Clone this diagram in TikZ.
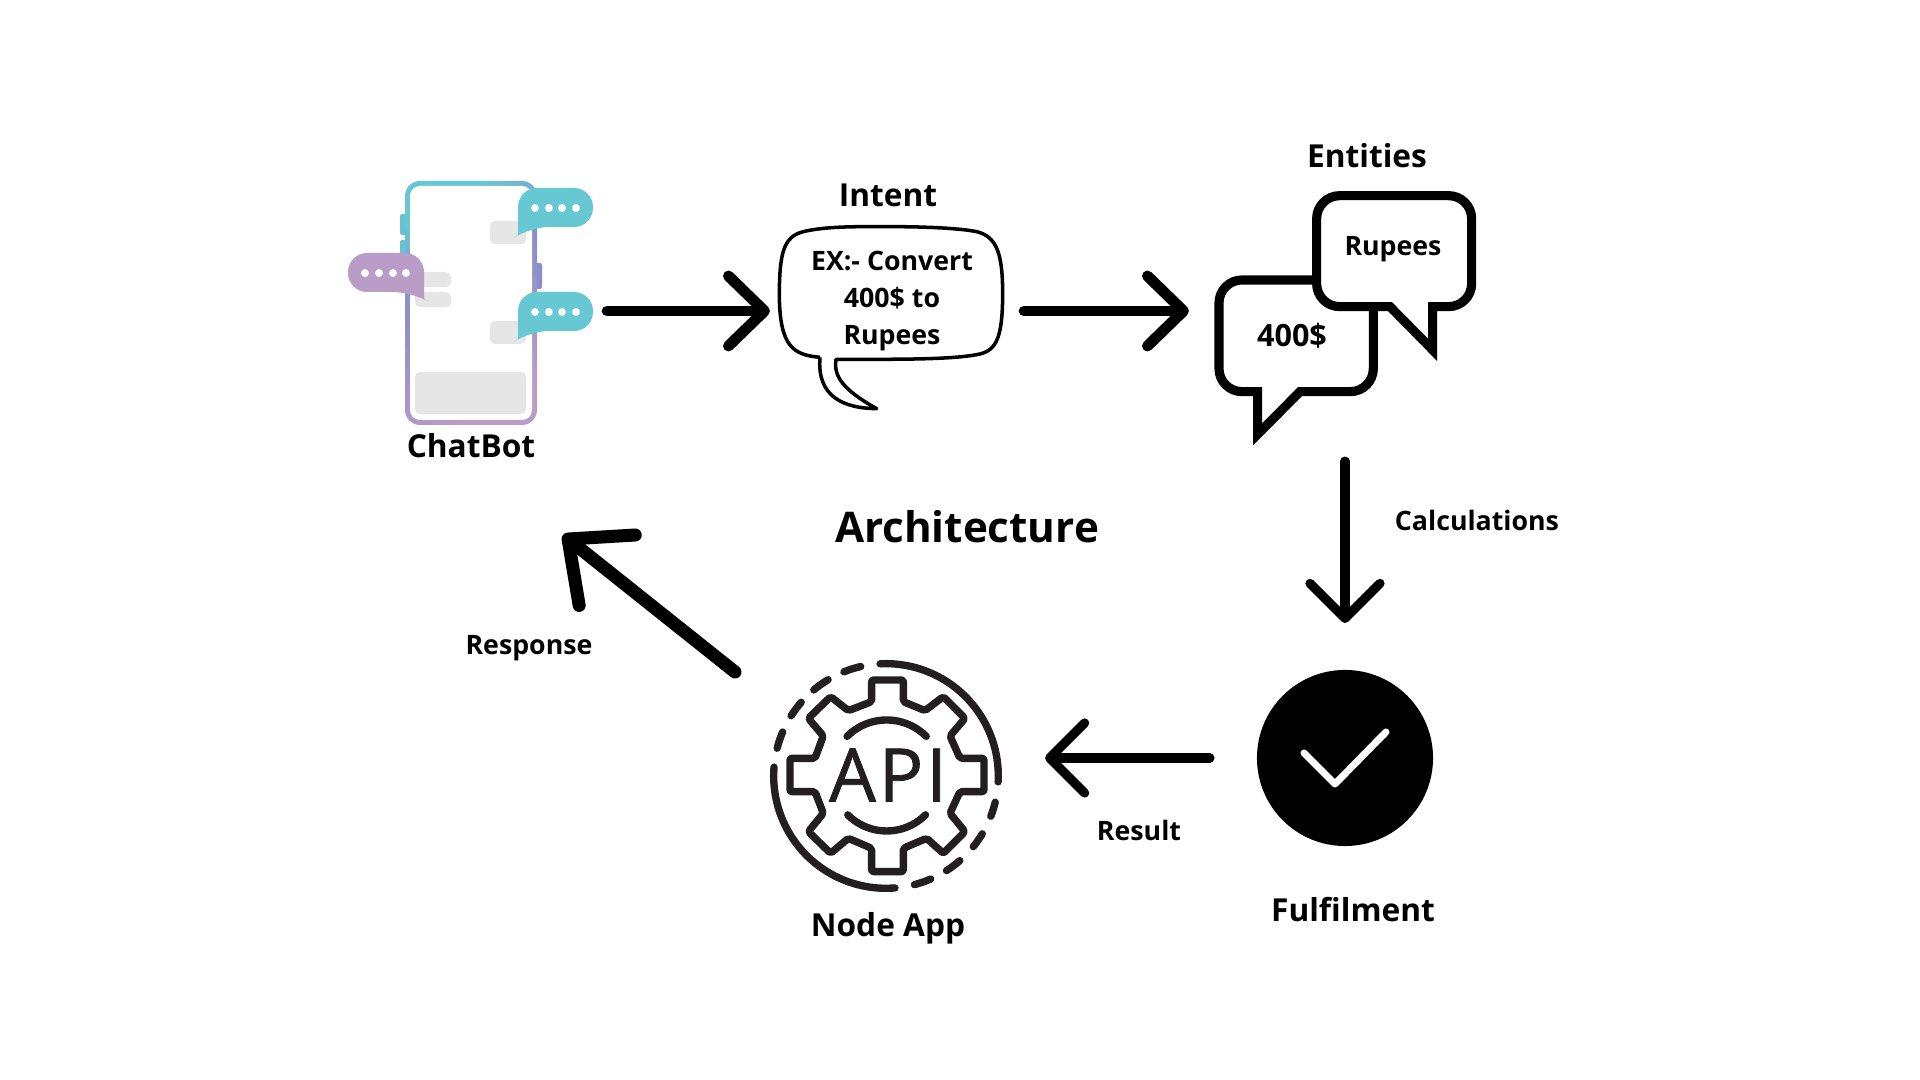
\documentclass[tikz,border=0pt]{standalone}
\usepackage{fontspec}
\setmainfont{Open Sans}
\newfontfamily\apifont[FakeBold=1, LetterSpace=4]{Open Sans}
\usetikzlibrary{arrows.meta,shapes,positioning,calc}

\definecolor{tealchat}{HTML}{66C8D2}
\definecolor{purplechat}{HTML}{BA9CC8}
\definecolor{phonemid}{HTML}{8A8FC8}
\definecolor{greybar}{HTML}{E6E6E6}
\definecolor{apiink}{HTML}{231F20}
\pgfdeclareverticalshading{phonegrad}{100bp}{color(0bp)=(purplechat); color(25bp)=(purplechat); color(57bp)=(phonemid); color(75bp)=(tealchat); color(100bp)=(tealchat)}

\begin{document}
\begin{tikzpicture}[
    x=0.01cm, y=-0.01cm,
    iconbox/.style={inner sep=0pt, outer sep=0pt},
    edge/.style={line width=3.1pt, line cap=round, -{Straight Barb[length=0.36cm, width=0.7cm, round]}},
    thinedge/.style={line width=2.6pt, line cap=round, -{Straight Barb[length=0.35cm, width=0.7cm, round]}},
    bigedge/.style={line width=3.7pt, line cap=round, -{Straight Barb[length=0.5cm, width=0.9cm, round]}},
    heading/.style={font=\fontsize{12}{14}\selectfont\bfseries},
    label/.style={font=\fontsize{9}{11}\selectfont\bfseries},
    smalllabel/.style={font=\fontsize{7.6}{9}\selectfont\bfseries},
    bubbletext/.style={font=\fontsize{7.6}{10.5}\selectfont\bfseries, align=center},
    apiline/.style={line width=2.1pt, draw=apiink, line cap=round, line join=round},
    bubbleline/.style={line width=2.6pt, draw=black, fill=white, miter limit=10},
    greybox/.style={fill=greybar, rounded corners=0.05cm},
]
\useasboundingbox (0,0) rectangle (1920,1080);

% Phone
\fill[tealchat!90!phonemid, rounded corners=0.02cm] (400,214) rectangle (407,235);
\fill[tealchat!90!phonemid, rounded corners=0.02cm] (400,240) rectangle (407,260);
\fill[phonemid, rounded corners=0.02cm] (535,263) rectangle (542,289);
\shade[shading=phonegrad, shading angle=30, rounded corners=0.15cm] (405,181) rectangle (537,425);
\fill[white, rounded corners=0.1cm] (410,186) rectangle (532,420);
\fill[greybox] (490,221) rectangle (526,244);
\fill[greybox] (415,272) rectangle (451,287);
\fill[greybox] (415,292) rectangle (451,307);
\fill[greybox] (490,321) rectangle (526,344);
\fill[greybox] (415,372) rectangle (526,414);

% Chat bubbles on the phone
\foreach \y in {188,292} {
  \fill[tealchat] (518,\y+47) -- (518,\y+20) [rounded corners=0.19cm] -- (518,\y) -- (593,\y) -- (593,\y+39) -- (530,\y+39) [sharp corners] -- cycle;
  \foreach \x in {535,549,562,576}
    \fill[white] (\x,\y+20) circle[radius=4];
}
\fill[purplechat] (424,299) -- (424,273) [rounded corners=0.19cm] -- (424,253) -- (348,253) -- (348,292) -- (412,292) [sharp corners] -- cycle;
\foreach \x in {365,379,393,406}
  \fill[white] (\x,273) circle[radius=4];

\node[iconbox, minimum width=2.72cm, minimum height=2.2cm] (chatbot) at (471,311) {};
\node[label] (chatbotlabel) at (471,446) {ChatBot};

% Intent
\begin{scope}[shift={(760,170)}, scale=0.3333]
\draw[line width=1pt, line join=round] (180,562) .. controls (100,555) and (60,530) .. (58,380)
  .. controls (58,250) and (70,200) .. (130,185) .. controls (200,168) and (300,170) .. (390,170)
  .. controls (500,170) and (600,175) .. (650,185) .. controls (710,200) and (728,250) .. (728,370)
  .. controls (728,500) and (710,540) .. (660,552) .. controls (580,570) and (400,568) .. (228,568)
  .. controls (220,620) and (250,660) .. (350,716) .. controls (250,715) and (170,680) .. (180,562);
\end{scope}
\node[iconbox, bubbletext, minimum width=2.44cm] (intent) at (892,301) {EX:- Convert\\400\$ to\\Rupees};
\node[label] (intentlabel) at (888,195) {Intent};

% Entities
\begin{scope}[shift={(1200,170)}, scale=0.3333]
\draw[bubbleline] (400,665) [rounded corners=0.23cm] -- (520,665) -- (520,330) -- (57,330) -- (57,665) [sharp corners] -- (173,665) -- (173,793) -- (300,665) -- cycle;
\draw[bubbleline] (450,410) [rounded corners=0.23cm] -- (350,410) -- (350,77) -- (815,77) -- (815,410) [sharp corners] -- (698,410) -- (698,540) -- (570,410) -- cycle;
\end{scope}
\node[iconbox, minimum width=3.12cm, minimum height=2.94cm] (entities) at (1345,311) {};
\node[bubbletext] (rupees) at (1393,249) {Rupees};
\node[bubbletext, font=\fontsize{8.7}{10.5}\selectfont\bfseries] (amount) at (1292,336) {400\$};
\node[label] (entitieslabel) at (1367,156) {Entities};

% Fulfilment
\node[circle, fill=black, minimum size=1.76cm, inner sep=0pt, outer sep=0pt] (fulfilment) at (1345,758) {};
\draw[white, line width=2pt, line cap=round, line join=round] (1304,753) -- (1335,784) -- (1386,732);
\node[label] (fulfilmentlabel) at (1353,910) {Fulfilment};

% Node app
\node[circle, iconbox, minimum size=2.28cm] (api) at (886,775) {};
\begin{scope}[shift={(760,650)}, scale=0.3333]
\draw[apiline] plot[domain=-3:93, samples=30, smooth] ({378+337*cos(\x)},{378-337*sin(\x)});
\draw[apiline] plot[domain=175.5:274.6, samples=30, smooth] ({378+337*cos(\x)},{378-337*sin(\x)});
\foreach \a/\b in {103/112, 121/130, 139/147.6, 157/165.7, -21/-13.5, -39/-31, -57.4/-48.9, -75.3/-66.5}
  \draw[apiline] plot[domain=\a:\b, samples=6, smooth] ({378+337*cos(\x)},{378-337*sin(\x)});
\draw[apiline] plot[domain=45:135, samples=20, smooth] ({380+168*cos(\x)},{378-168*sin(\x)});
\draw[apiline] plot[domain=-135:-45, samples=20, smooth] ({380+165*cos(\x)},{378-165*sin(\x)});
\draw[apiline, rounded corners=0.02cm] (335,155) -- (335,90) -- (430,90) -- (430,155) -- (495,182) -- (550,140) -- (615,205) -- (570,258) -- (600,325) -- (672,325) -- (672,425) -- (600,425) -- (570,490) -- (615,545) -- (550,610) -- (500,565) -- (430,595) -- (430,665) -- (335,665) -- (335,595) -- (265,565) -- (212,610) -- (145,545) -- (190,490) -- (165,425) -- (90,425) -- (90,325) -- (165,325) -- (190,258) -- (145,205) -- (212,140) -- (265,182) -- cycle;
\end{scope}
\node[text=apiink, font=\fontsize{21}{21}\selectfont\apifont] (apitext) at (888,775) {API};
\node[label] (apilabel) at (888,928) {Node App};

% Title and connector labels
\node[heading] (title) at (967,527) {Architecture};
\node[smalllabel] (calc) at (1477,520) {Calculations};
\node[smalllabel] (result) at (1139,830) {Result};
\node[smalllabel] (response) at (529,648) {Response};

% Connectors
\draw[edge] (chatbot.east) -- (chatbot.east -| intent.west);
\draw[edge, shorten <=0.1cm] (chatbot.east -| intent.east) -- (chatbot.east -| entities.west);
\draw[thinedge, shorten <=0.03cm] (entities.south) -- ([shift={(0,-135)}]fulfilment.center);
\draw[thinedge, shorten <=0.47cm, shorten >=0.45cm] (fulfilment.west) -- (fulfilment.west -| api.east);
\draw[bigedge] ([shift={(-151,-103)}]api.center) -- ([shift={(92,224)}]chatbot.center);

\end{tikzpicture}
\end{document}
